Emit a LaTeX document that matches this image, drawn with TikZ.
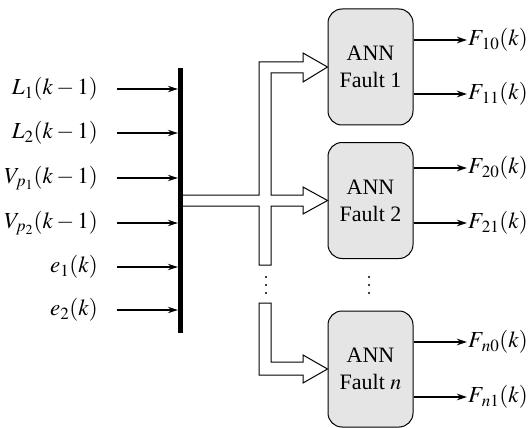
\documentclass[tikz,border=0pt]{standalone}
\usepackage{mathptmx}
\usepackage{fontspec}
\setmainfont{Liberation Serif}
\usetikzlibrary{arrows.meta}
\tikzset{
  x=1pt,y=-1pt,
  lab/.style={inner sep=0pt,font=\fontsize{23}{27}\selectfont},
  arr/.style={line width=1.1pt,-{Stealth[length=10pt,width=6.5pt]}},
  ann/.style={draw,line width=1pt,fill=black!10,rounded corners=14pt,minimum width=85pt,minimum height=116pt,inner sep=0pt,align=center,font=\fontsize{22}{27}\selectfont},
  hollow/.style={draw,line width=1pt,fill=white,line join=miter},
  dotc/.style={fill=black,circle,inner sep=0pt,minimum size=2.4pt}
}
\newcommand{\Fsub}[1]{F_{\mkern2mu #1}(k)}
\begin{document}
\begin{tikzpicture}
\useasboundingbox (0,0) rectangle (528,428);
% bar
\node[fill=black,inner sep=0pt,minimum width=5pt,minimum height=265pt] (bar) at (180.5,200.5) {};
% inputs
\foreach \i/\y/\t in {1/89/{$L_1(k-1)$},2/133/{$L_2(k-1)$},3/178/{$V_{p_1}(k-1)$},4/223/{$V_{p_2}(k-1)$},5/267/{$e_1(k)$},6/310/{$e_2(k)$}}{
  \node[lab,anchor=east] (l\i) at (98,\y) {\t};
  \coordinate (s\i) at (117,\y);
  \draw[arr] (s\i) -- (s\i -| bar.west);
}
% boxes
\node[ann] (box1) at (370.5,67) {ANN\\Fault 1};
\node[ann] (box2) at (370.5,200.5) {ANN\\Fault 2};
\node[ann] (boxn) at (370.5,369) {ANN\\Fault $n$};
% hollow arrows
\draw[hollow] (183,195) -- (259,195) -- (259,62) -- (303,62) -- (303,53) -- (box1.west) -- (303,82) -- (303,73) -- (271,73) -- (271,195) -- (303,195) -- (303,187) -- (box2.west) -- (303,214) -- (303,206) -- (271,206) -- (271,265) -- (259,265) -- (259,206) -- (183,206);
\draw[hollow] (259,303) -- (271,303) -- (271,362) -- (303,362) -- (303,355) -- (boxn.west) -- (303,383) -- (303,375) -- (259,375) -- cycle;
% dots
\foreach \x/\n in {266/da,369/db}{
  \node[dotc] (\n1) at (\x,277) {};
  \node[dotc] (\n2) at (\x,285) {};
  \node[dotc] (\n3) at (\x,293) {};
}
% outputs
\foreach \b/\ya/\yb/\m in {box1/40/94/1,box2/168/223/2,boxn/342/397/n}{
  \coordinate (o\m a) at (467,\ya);
  \coordinate (o\m b) at (467,\yb);
  \draw[arr] (o\m a -| \b.east) -- (o\m a);
  \draw[arr] (o\m b -| \b.east) -- (o\m b);
}
\node[lab,anchor=west] (f10) at (468,40) {$\Fsub{10}$};
\node[lab,anchor=west] (f11) at (468,94) {$\Fsub{11}$};
\node[lab,anchor=west] (f20) at (468,168) {$\Fsub{20}$};
\node[lab,anchor=west] (f21) at (468,223) {$\Fsub{21}$};
\node[lab,anchor=west] (fn0) at (468,342) {$\Fsub{n0}$};
\node[lab,anchor=west] (fn1) at (468,397) {$\Fsub{n1}$};
\end{tikzpicture}
\end{document}
